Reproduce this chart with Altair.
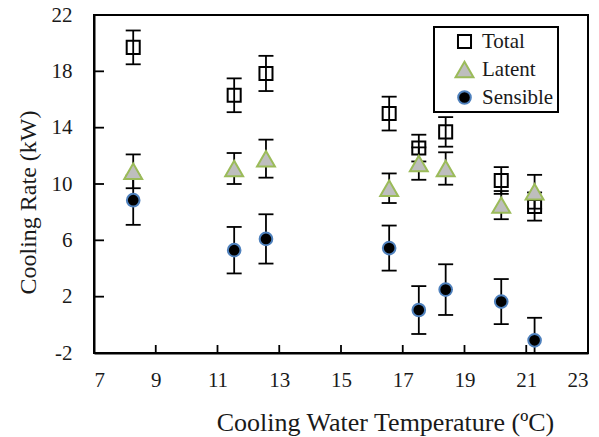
import altair as alt
import pandas as pd

# ---- data ----
temps = [8.27, 11.54, 12.57, 16.56, 17.52, 18.39, 20.19, 21.27]
total = [19.7, 16.3, 17.85, 15.0, 12.55, 13.7, 10.25, 8.4]
total_err = [1.2, 1.2, 1.25, 1.2, 0.95, 1.05, 0.95, 1.0]
latent = [10.9, 11.1, 11.8, 9.7, 11.45, 11.1, 8.5, 9.45]
latent_err = [1.2, 1.1, 1.35, 1.05, 1.15, 1.15, 1.0, 1.2]
sensible = [8.85, 5.3, 6.1, 5.45, 1.05, 2.5, 1.65, -1.1]
sensible_err = [1.75, 1.65, 1.75, 1.6, 1.7, 1.8, 1.6, 1.6]
series_names = ["Total", "Latent", "Sensible"]
x_ticks = [7, 9, 11, 13, 15, 17, 19, 21, 23]
y_ticks = [-2, 2, 6, 10, 14, 18, 22]

rows = []
for name, vals, errs in [("Total", total, total_err),
                         ("Latent", latent, latent_err),
                         ("Sensible", sensible, sensible_err)]:
    for t, v, e in zip(temps, vals, errs):
        rows.append({"temp": t, "value": v, "err": e, "series": name})
df = pd.DataFrame(rows)

FONT = "Liberation Serif"
TXT = "#1a1a1a"
LABEL_EXPR = "replace(datum.label, '\u2212', '-')"

x_scale = alt.Scale(domain=[7, 23], nice=False, zero=False)
y_scale = alt.Scale(domain=[-2, 22], nice=False, zero=False)
x_axis = alt.Axis(values=x_ticks, title="Cooling Water Temperature (ºC)",
                  titleX=291, titleY=77, titleBaseline="alphabetic",
                  titleFontSize=26, labelPadding=16,
                  labelFont=FONT, titleFont=FONT, labelFontSize=21,
                  labelExpr=LABEL_EXPR)
y_axis = alt.Axis(values=y_ticks, title="Cooling Rate (kW)",
                  titleX=-59, titleY=187, titleAngle=-90,
                  titleBaseline="alphabetic", titleAlign="center",
                  titleFontSize=24, labelPadding=22,
                  labelFont=FONT, titleFont=FONT, labelFontSize=21,
                  labelExpr=LABEL_EXPR)

X = alt.X("temp:Q", scale=x_scale, axis=x_axis)

shape_s = alt.Scale(domain=series_names, range=["square", "triangle-up", "circle"])
fill_s = alt.Scale(domain=series_names, range=["transparent", "#BEBEBE", "#000000"])
stroke_s = alt.Scale(domain=series_names, range=["#000000", "#9BBB59", "#4F81BD"])
size_s = alt.Scale(type="ordinal", domain=series_names, range=[170, 320, 160])

legend = alt.Legend(title=None, orient="none", legendX=340, legendY=12,
                    labelFont=FONT, labelFontSize=21)

def point_enc():
    return dict(
        x=X,
        y=alt.Y("value:Q", scale=y_scale, axis=y_axis),
        shape=alt.Shape("series:N", scale=shape_s, legend=legend),
        fill=alt.Fill("series:N", scale=fill_s, legend=legend),
        stroke=alt.Stroke("series:N", scale=stroke_s, legend=legend),
        size=alt.Size("series:N", scale=size_s, legend=legend),
    )

base = alt.Chart(df).transform_calculate(
    lo="datum.value - datum.err", hi="datum.value + datum.err")

total_pts = base.transform_filter(alt.datum.series == "Total").mark_point(
    filled=False, strokeWidth=2, opacity=1).encode(**point_enc())

other_pts = base.transform_filter(alt.datum.series != "Total").mark_point(
    strokeWidth=2, opacity=1).encode(**point_enc())

rules = base.mark_rule(color="black", strokeWidth=1.8, clip=True).encode(
    x=X,
    y=alt.Y("lo:Q", scale=y_scale, axis=y_axis),
    y2="hi:Q")

cap_lo = base.mark_tick(orient="horizontal", size=15, thickness=1.8,
                        color="black", clip=True, opacity=1).encode(
    x=X, y=alt.Y("lo:Q", scale=y_scale, axis=y_axis))
cap_hi = base.mark_tick(orient="horizontal", size=15, thickness=1.8,
                        color="black", clip=True, opacity=1).encode(
    x=X, y=alt.Y("hi:Q", scale=y_scale, axis=y_axis))

# inward axis ticks
xt = alt.Chart(pd.DataFrame({"t": x_ticks})).mark_tick(
    orient="vertical", size=8, thickness=1.8, yOffset=-4, color="black",
    opacity=1).encode(x=alt.X("t:Q", scale=x_scale, axis=x_axis),
                      y=alt.YDatum(-2, scale=y_scale, axis=y_axis))
yt = alt.Chart(pd.DataFrame({"t": y_ticks})).mark_tick(
    orient="horizontal", size=10, thickness=1.8, xOffset=5, color="black",
    opacity=1).encode(y=alt.Y("t:Q", scale=y_scale, axis=y_axis),
                      x=alt.XDatum(7, scale=x_scale, axis=x_axis))

chart = alt.layer(total_pts, rules, cap_lo, cap_hi, other_pts, xt, yt).properties(
    width=494, height=338,
    autosize=alt.AutoSizeParams(type="none"),
    padding={"left": 94, "top": 15, "right": 11, "bottom": 84},
    background="white",
).configure(
    font=FONT
).configure_view(
    stroke="black", strokeWidth=2
).configure_axis(
    grid=False, ticks=False, tickSize=0,
    domainColor="black", domainWidth=2,
    labelFont=FONT, labelFontSize=21, labelColor=TXT,
    titleFont=FONT, titleColor=TXT, titleFontWeight="normal",
).configure_legend(
    strokeColor="black", strokeWidth=2, fillColor="white",
    padding=4, rowPadding=4, symbolOffset=16, labelOffset=7,
    labelFont=FONT, labelFontSize=21, labelColor=TXT,
    symbolStrokeWidth=2,
)

chart.save("out.html", embed_options={"renderer": "svg", "actions": False})
